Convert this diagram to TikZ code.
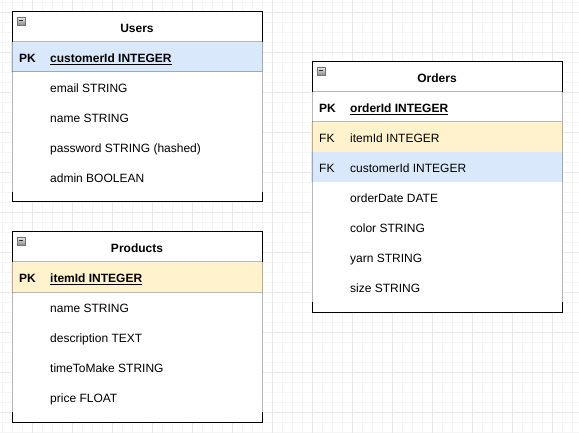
\documentclass[tikz,border=0pt]{standalone}
\usepackage{fontspec}
\setmainfont{Liberation Sans}
\definecolor{keyblue}{HTML}{DAE8FC}
\definecolor{keyyellow}{HTML}{FFF2CC}
\newcommand{\keyname}[1]{\underline{\textbf{#1}}}

\begin{document}
\begin{tikzpicture}[x=1pt,y=-1pt,
    minorline/.style={black!4, line width=0.8pt},
    majorline/.style={black!9, line width=0.8pt},
    tablebox/.style={draw=black, fill=white, line width=1pt},
    sideline/.style={draw=black, draw opacity=0.28, line width=1pt},
    collapsebox/.style={draw=black!55, top color=black!8, bottom color=black!45, line width=0.6pt},
    titletext/.style={font=\fontsize{12}{14}\selectfont\bfseries, anchor=base, inner sep=0pt},
    keytext/.style={font=\fontsize{12}{14}\selectfont, anchor=base west, inner sep=0pt},
    fieldtext/.style={font=\fontsize{12}{14}\selectfont, anchor=base west, inner sep=0pt}]
  \useasboundingbox (0,0) rectangle (579,433);

  % background grid
  \foreach \x in {2,12,...,572} \draw[minorline] (\x,0) -- (\x,433);
  \foreach \y in {2,12,...,432} \draw[minorline] (0,\y) -- (579,\y);
  \foreach \x in {32,72,...,552} \draw[majorline] (\x,0) -- (\x,433);
  \foreach \y in {12,52,...,412} \draw[majorline] (0,\y) -- (579,\y);

  % Users
  \draw[tablebox] (12,12) rectangle (262,202);
  \fill[white] (11.4,42) rectangle (262.6,192);
  \fill[keyblue] (11.4,42) rectangle (262.6,72);
  \draw[sideline] (12,42) -- (12,192) (262,42) -- (262,192);
  \draw[sideline] (12,42) -- (262,42) (12,72) -- (262,72);
  \draw[collapsebox] (17,17) rectangle (25,25);
  \draw[black!80, line width=1pt] (18.8,21) -- (23.2,21);
  \node[titletext] (users) at (137,32.5) {Users};
  \node[keytext, font=\fontsize{12}{14}\selectfont\bfseries] (users-pk) at (19,62.5) {PK};
  \node[fieldtext] (users-id) at (50,62.5) {\keyname{customerId INTEGER}};
  \node[fieldtext] (users-email) at (50,92.5) {email STRING};
  \node[fieldtext] (users-name) at (50,122.5) {name STRING};
  \node[fieldtext] (users-pass) at (50,152.5) {password STRING (hashed)};
  \node[fieldtext] (users-admin) at (50,182.5) {admin BOOLEAN};

  % Products
  \draw[tablebox] (12,232) rectangle (262,422);
  \fill[white] (11.4,262) rectangle (262.6,412);
  \fill[keyyellow] (11.4,262) rectangle (262.6,292);
  \draw[sideline] (12,262) -- (12,412) (262,262) -- (262,412);
  \draw[sideline] (12,262) -- (262,262) (12,292) -- (262,292);
  \draw[collapsebox] (17,237) rectangle (25,245);
  \draw[black!80, line width=1pt] (18.8,241) -- (23.2,241);
  \node[titletext] (products) at (137,252.5) {Products};
  \node[keytext, font=\fontsize{12}{14}\selectfont\bfseries] (products-pk) at (19,282.5) {PK};
  \node[fieldtext] (products-id) at (50,282.5) {\keyname{itemId INTEGER}};
  \node[fieldtext] (products-name) at (50,312.5) {name STRING};
  \node[fieldtext] (products-desc) at (50,342.5) {description TEXT};
  \node[fieldtext] (products-time) at (50,372.5) {timeToMake STRING};
  \node[fieldtext] (products-price) at (50,402.5) {price FLOAT};

  % Orders
  \draw[tablebox] (312,62) rectangle (562,312);
  \fill[white] (311.4,92) rectangle (562.6,302);
  \fill[keyyellow] (311.4,122) rectangle (562.6,152);
  \fill[keyblue] (311.4,152) rectangle (562.6,182);
  \draw[sideline] (312,92) -- (312,302) (562,92) -- (562,302);
  \draw[sideline] (312,92) -- (562,92) (312,122) -- (562,122);
  \draw[collapsebox] (317,67) rectangle (325,75);
  \draw[black!80, line width=1pt] (318.8,71) -- (323.2,71);
  \node[titletext] (orders) at (437,82.5) {Orders};
  \node[keytext, font=\fontsize{12}{14}\selectfont\bfseries] (orders-pk) at (319,112.5) {PK};
  \node[fieldtext] (orders-id) at (350,112.5) {\keyname{orderId INTEGER}};
  \node[keytext] (orders-fk1) at (319,142.5) {FK};
  \node[fieldtext] (orders-item) at (350,142.5) {itemId INTEGER};
  \node[keytext] (orders-fk2) at (319,172.5) {FK};
  \node[fieldtext] (orders-cust) at (350,172.5) {customerId INTEGER};
  \node[fieldtext] (orders-date) at (350,202.5) {orderDate DATE};
  \node[fieldtext] (orders-color) at (350,232.5) {color STRING};
  \node[fieldtext] (orders-yarn) at (350,262.5) {yarn STRING};
  \node[fieldtext] (orders-size) at (350,292.5) {size STRING};
\end{tikzpicture}
\end{document}
